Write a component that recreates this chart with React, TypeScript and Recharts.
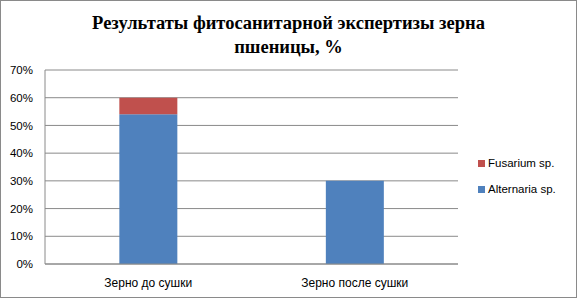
import React from 'react';
import { BarChart, Bar, XAxis, YAxis, CartesianGrid } from 'recharts';

const categories = ['Зерно до сушки', 'Зерно после сушки'];
const alternaria = [54, 30];
const fusarium = [6, 0];
const yTicks = [0, 10, 20, 30, 40, 50, 60, 70];

const series = [
  { key: 'fusarium', name: 'Fusarium sp.', color: '#C0504D' },
  { key: 'alternaria', name: 'Alternaria sp.', color: '#4F81BD' },
];

const data = categories.map((name, i) => ({
  name,
  alternaria: alternaria[i],
  fusarium: fusarium[i],
}));

const font = '"Liberation Sans", Arial, sans-serif';

const App: React.FC = () => {
  return (
    <div
      style={{
        position: 'absolute',
        left: 0,
        top: 0,
        width: 577,
        height: 298,
        boxSizing: 'border-box',
        border: '1px solid #8a8a8a',
        background: '#fff',
      }}
    >
      <div
        style={{
          position: 'absolute',
          left: 0,
          top: 10,
          width: 575,
          textAlign: 'center',
          fontFamily: '"Liberation Serif", "Times New Roman", serif',
          fontWeight: 'bold',
          fontSize: 18.5,
          lineHeight: '24px',
        }}
      >
        Результаты фитосанитарной экспертизы зерна
        <br />
        пшеницы, %
      </div>
      <BarChart
        width={575}
        height={296}
        data={data}
        margin={{ top: 69, right: 118, bottom: 3, left: 0 }}
        barCategoryGap="36%"
        style={{ position: 'absolute', left: 0, top: 0 }}
      >
        <CartesianGrid horizontal vertical={false} stroke="#8a8a8a" strokeWidth={1} />
        <XAxis
          dataKey="name"
          height={30}
          stroke="#8a8a8a"
          tickLine={false}
          tick={{ fill: '#000', fontSize: 12, fontFamily: font }}
          tickMargin={8}
        />
        <YAxis
          width={44}
          domain={[0, 70]}
          ticks={yTicks}
          interval={0}
          stroke="#8a8a8a"
          tickLine={false}
          tickFormatter={(v) => `${v}%`}
          tick={{ fill: '#000', fontSize: 11.5, fontFamily: font }}
          tickMargin={6}
        />
        <Bar dataKey="alternaria" name="Alternaria sp." stackId="a" fill="#4F81BD" isAnimationActive={false} />
        <Bar dataKey="fusarium" name="Fusarium sp." stackId="a" fill="#C0504D" isAnimationActive={false} />
      </BarChart>
      <div style={{ position: 'absolute', left: 477, top: 149, fontFamily: font, fontSize: 11.5, color: '#000' }}>
        {series.map((s) => (
          <div key={s.key} style={{ display: 'flex', alignItems: 'center', height: 26 }}>
            <span style={{ width: 7, height: 7, background: s.color, marginRight: 3, display: 'inline-block' }} />
            <span>{s.name}</span>
          </div>
        ))}
      </div>
    </div>
  );
};

export default App;
